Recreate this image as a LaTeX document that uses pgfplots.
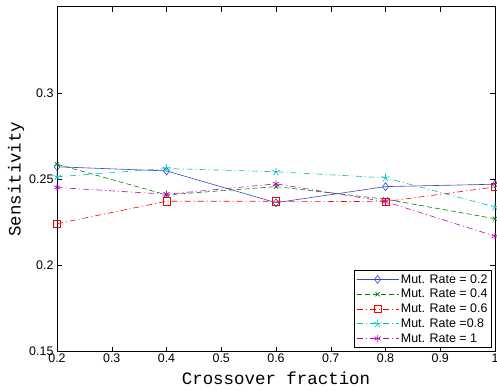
\documentclass[border=0pt]{standalone}
\usepackage{fontspec}
\setmainfont{Liberation Sans}
\setmonofont{Liberation Mono}
\usepackage{pgfplots}
\pgfplotsset{compat=1.18}
\definecolor{mblue}{rgb}{0.2,0.3,0.75}
\definecolor{mgreen}{rgb}{0,0.5,0}
\definecolor{mred}{rgb}{1,0,0}
\definecolor{mcyan}{rgb}{0,0.75,0.75}
\definecolor{mmag}{rgb}{0.75,0,0.75}
\begin{document}
\begin{tikzpicture}
\begin{axis}[
  scale only axis,
  width=438bp, height=345bp,
  xmin=0.2, xmax=1, ymin=0.15, ymax=0.35,
  xtick={0.2,0.3,0.4,0.5,0.6,0.7,0.8,0.9,1},
  xticklabels={0.2,0.3,0.4,0.5,0.6,0.7,0.8,0.9,1},
  ytick={0.15,0.2,0.25,0.3},
  yticklabels={0.15,0.2,0.25,0.3},
  tick align=inside,
  major tick length=5bp,
  tick style={black, line width=0.5pt},
  axis line style={black, line width=0.8pt},
  ticklabel style={font=\fontsize{12.5}{14}\selectfont},
  xticklabel style={yshift=1bp},
  xlabel={Crossover fraction},
  ylabel={Sensitivity},
  every axis x label/.style={at={(axis description cs:0.5,-0.078)}, anchor=center, font=\fontsize{17.5}{20}\selectfont\ttfamily},
  every axis y label/.style={at={(axis description cs:-0.0936,0.5)}, rotate=90, anchor=center, font=\fontsize{17.5}{20}\selectfont\ttfamily},
  legend style={font=\fontsize{12.5}{15}\selectfont, draw=black, line width=0.8pt, at={(0.993,0.011)}, anchor=south east, inner xsep=2bp, inner ysep=2bp, row sep=0.6bp},
  legend cell align=left,
  legend image code/.code={\draw[mark repeat=2,mark phase=2] plot coordinates {(0bp,0bp) (21bp,0bp) (42bp,0bp)};},
  every axis plot/.append style={line width=0.6pt, mark size=4bp, mark options={solid, line width=0.6pt}},
]
\addplot[mblue, solid, mark=diamond] coordinates {(0.2,0.2572) (0.4,0.2548) (0.6,0.2364) (0.8,0.2457) (1.0,0.2471)};
\addplot[mgreen, dash pattern=on 5bp off 3bp, mark=x, mark options={solid, mark size=3bp}] coordinates {(0.2,0.2587) (0.4,0.2409) (0.6,0.2457) (0.8,0.2384) (1.0,0.2271)};
\addplot[mred, dash pattern=on 6bp off 3bp on 1bp off 3bp, mark=square, mark options={solid, mark size=3.6bp}] coordinates {(0.2,0.2242) (0.4,0.2372) (0.6,0.2372) (0.8,0.2370) (1.0,0.2455)};
\addplot[mcyan, dash pattern=on 6bp off 3bp on 1bp off 3bp, mark=star, mark options={solid, mark size=4.2bp}] coordinates {(0.2,0.2514) (0.4,0.2562) (0.6,0.2543) (0.8,0.2508) (1.0,0.2339)};
\addplot[mmag, dash pattern=on 6bp off 3bp on 1bp off 3bp, mark=asterisk, mark options={solid, mark size=3.6bp}] coordinates {(0.2,0.2452) (0.4,0.2413) (0.6,0.2473) (0.8,0.2370) (1.0,0.2170)};
\legend{Mut. Rate = 0.2, Mut. Rate = 0.4, Mut. Rate = 0.6, Mut. Rate =0.8, Mut. Rate = 1}
\coordinate (sw) at (rel axis cs:0,0);
\coordinate (ne) at (rel axis cs:1,1);
\end{axis}
\pgfresetboundingbox
\path ([shift={(-57bp,-39bp)}]sw) rectangle ([shift={(2bp,6.7bp)}]ne);
\end{tikzpicture}
\end{document}
